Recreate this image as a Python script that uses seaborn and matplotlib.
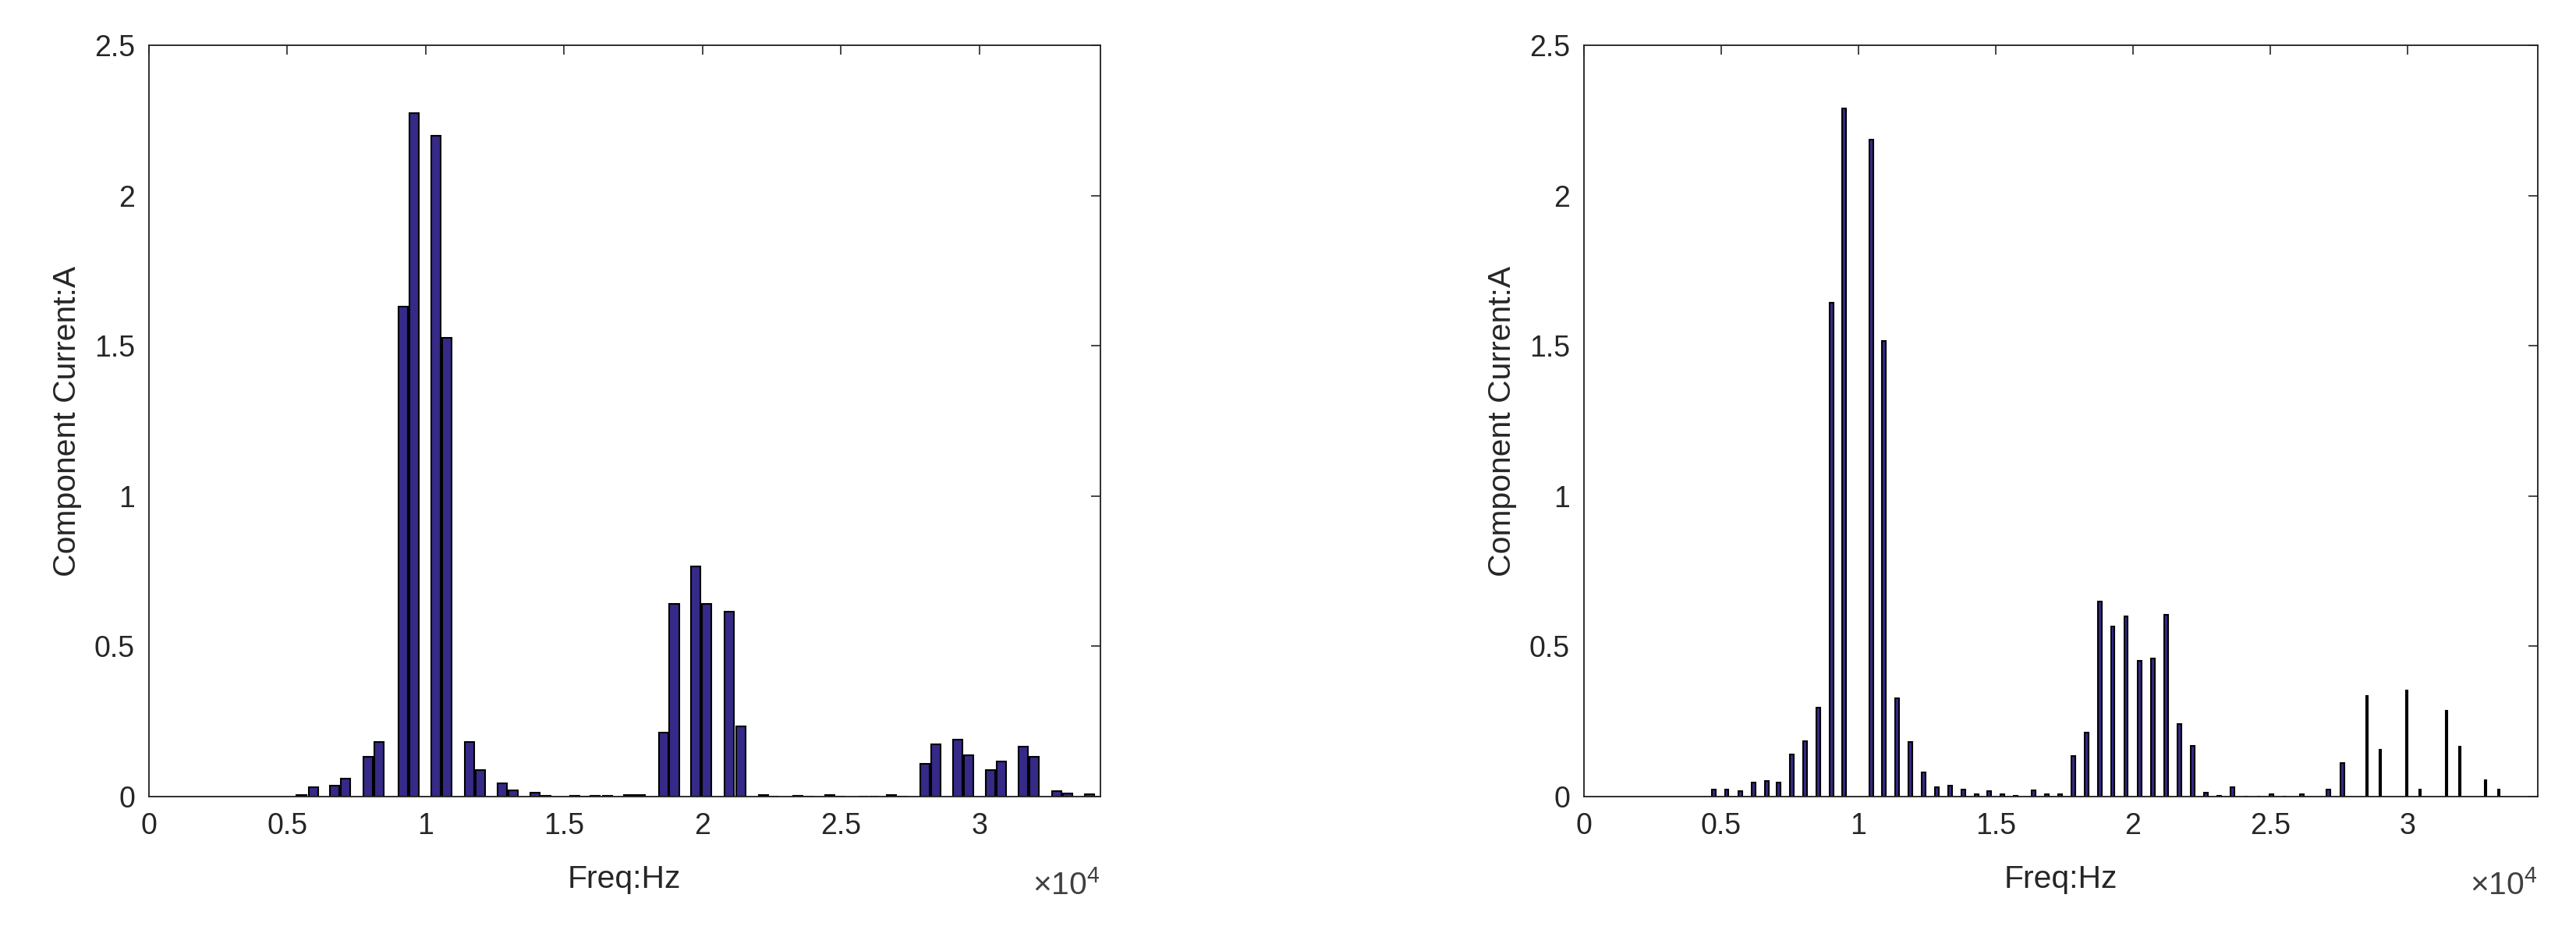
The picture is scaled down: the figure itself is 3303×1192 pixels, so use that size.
import numpy as np
import pandas as pd
import seaborn as sns
import matplotlib
matplotlib.use("Agg")
import matplotlib.pyplot as plt

# ---- data ----
# left panel (wide paired bars)
left_freq = [5513, 5941, 6710, 7113, 7913, 8315, 9197, 9592, 10380, 10775,
             11575, 11969, 12758, 13152, 13949, 14344, 15377, 15770, 16127, 16560,
             17344, 17746, 18608, 18977, 19746, 20138, 20966, 21380, 22208, 22600,
             23451, 23850, 24597, 25000, 25800, 26200, 26831, 27230, 28025, 28417,
             29223, 29611, 30394, 30786, 31589, 31980, 32797, 33200, 33980]
left_amp = [0.005, 0.03, 0.036, 0.06, 0.132, 0.182, 1.63, 2.273, 2.199, 1.526,
            0.182, 0.088, 0.043, 0.02, 0.013, 0.003, 0.002, 0.001, 0.002, 0.002,
            0.005, 0.005, 0.212, 0.642, 0.767, 0.642, 0.614, 0.233, 0.005, 0.001,
            0.002, 0.001, 0.005, 0.001, 0.001, 0.001, 0.005, 0.001, 0.109, 0.175,
            0.19, 0.137, 0.088, 0.116, 0.167, 0.132, 0.017, 0.01, 0.008]

# right panel (narrow bars)
right_freq = [4730, 5199, 5693, 6182, 6668, 7097, 7574, 8060, 8534, 9011,
              9486, 10460, 10935, 11412, 11898, 12372, 12861, 13335, 13824, 14310,
              14773, 15256, 15740, 16386, 16864, 17352, 17829, 18313, 18796, 19264,
              19747, 20236, 20727, 21208, 21690, 22173, 22656, 23139, 23622, 24100,
              24580, 25054, 25540, 26159, 27128, 27622]
right_amp = [0.024, 0.024, 0.017, 0.046, 0.053, 0.046, 0.14, 0.184, 0.295, 1.644,
             2.29, 2.187, 1.515, 0.328, 0.182, 0.081, 0.03, 0.037, 0.023, 0.009,
             0.017, 0.009, 0.002, 0.022, 0.008, 0.008, 0.134, 0.212, 0.65, 0.565,
             0.6, 0.452, 0.46, 0.606, 0.242, 0.17, 0.014, 0.002, 0.03, 0.001,
             0.001, 0.008, 0.001, 0.008, 0.023, 0.112]
# right panel, very thin (black) bars at high frequency
thin_freq = [28520, 29003, 29972, 30455, 31424, 31898, 32855, 33338]
thin_amp = [0.336, 0.156, 0.353, 0.023, 0.286, 0.165, 0.055, 0.023]

xticks = [0, 5000, 10000, 15000, 20000, 25000, 30000]
xticklabels = ["0", "0.5", "1", "1.5", "2", "2.5", "3"]
yticks = [0, 0.5, 1, 1.5, 2, 2.5]
yticklabels = ["0", "0.5", "1", "1.5", "2", "2.5"]

bar_color = "#352A87"
txt = "#262626"

sns.set_style("white")
plt.rcParams['font.family'] = ['Liberation Sans', 'DejaVu Sans']
plt.rcParams['mathtext.fontset'] = 'custom'
plt.rcParams['mathtext.rm'] = 'Liberation Sans'

fig = plt.figure(figsize=(3303 / 300, 1192 / 300), dpi=300)
ax1 = fig.add_axes([190.8 / 3303, 1 - 1021 / 1192, 1219.8 / 3303, 963 / 1192])
ax2 = fig.add_axes([2031 / 3303, 1 - 1021 / 1192, 1223 / 3303, 963 / 1192])


def bars(ax, freq, amp, w_hz):
    df = pd.DataFrame({'freq': freq, 'amp': amp})
    step = np.min(np.diff(np.sort(df['freq'].values)))
    sns.barplot(data=df, x='freq', y='amp', native_scale=True, orient='x',
                width=w_hz / step, color=bar_color, saturation=1,
                edgecolor='black', linewidth=0.5, errorbar=None, ax=ax)


bars(ax1, left_freq, left_amp, 340)
bars(ax2, right_freq, right_amp, 140)
bars(ax2, thin_freq, thin_amp, 60)

for ax, xmax in [(ax1, 34360), (ax2, 34750)]:
    ax.set_xlim(0, xmax)
    ax.set_ylim(0, 2.5)
    ax.set_xticks(xticks)
    ax.set_xticklabels(xticklabels)
    ax.set_yticks(yticks)
    ax.set_yticklabels(yticklabels)
    ax.tick_params(direction='in', top=True, right=True, length=2.9, width=0.4,
                   color=txt, labelcolor=txt, labelsize=9)
    ax.tick_params(axis='x', pad=4.8)
    ax.tick_params(axis='y', pad=4.3)
    for s in ax.spines.values():
        s.set_visible(True)
        s.set_color(txt)
        s.set_linewidth(0.45)
    ax.set_xlabel("Freq:Hz", fontsize=9.8, color=txt)
    ax.set_ylabel("Component Current:A", fontsize=9.8, color=txt)
    ax.xaxis.set_label_coords(0.5, -0.09)
    ax.yaxis.set_label_coords(-0.07, 0.5)
    ax.text(1.0, -0.13, r'$\mathregular{\times 10^{4}}$', transform=ax.transAxes,
            ha='right', va='baseline', fontsize=9.8, color='#404040')

fig.savefig("out.png", dpi=300, facecolor='white')
